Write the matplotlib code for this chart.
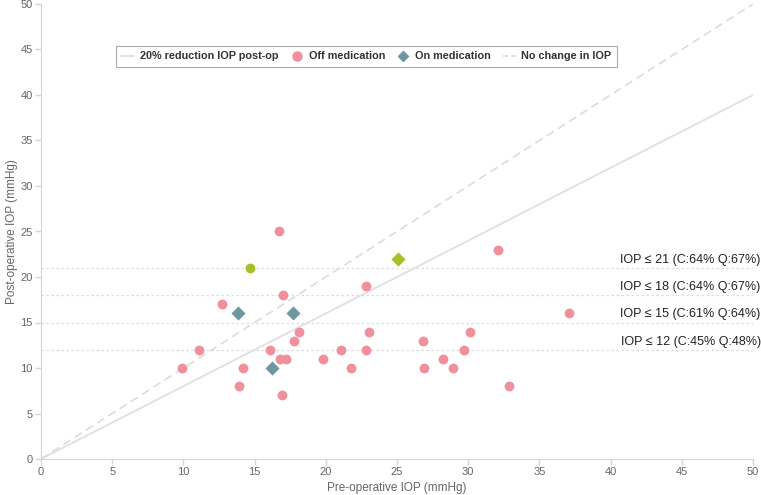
import matplotlib
matplotlib.use("Agg")
import matplotlib.pyplot as plt
from matplotlib.lines import Line2D

# data (mmHg)
off_pre = [16.7, 32.1, 22.8, 17.0, 12.7, 37.1, 18.1, 23.0, 30.1, 17.8, 26.8,
           11.1, 16.1, 21.1, 22.8, 29.7, 16.8, 17.2, 19.8, 28.2,
           9.9, 14.2, 21.8, 26.9, 28.9, 13.9, 32.9, 16.9]
off_post = [25, 23, 19, 18, 17, 16, 14, 14, 14, 13, 13,
            12, 12, 12, 12, 12, 11, 11, 11, 11,
            10, 10, 10, 10, 10, 8, 8, 7]
on_pre = [13.8, 17.7, 16.2]
on_post = [16, 16, 10]
hl_circle_pre, hl_circle_post = [14.7], [21]
hl_diamond_pre, hl_diamond_post = [25.1], [22]

thresholds = [21, 18, 15, 12]
threshold_labels = ["IOP ≤ 21 (C:64% Q:67%)", "IOP ≤ 18 (C:64% Q:67%)",
                    "IOP ≤ 15 (C:61% Q:64%)", "IOP ≤ 12 (C:45% Q:48%)"]
axis_range = [0, 50]

pink = "#f0909d"
slate = "#6f96a1"
green = "#a8bf2c"
axis_col = "#ccd6eb"
text_col = "#666666"

plt.rcParams["font.family"] = ["Liberation Sans", "DejaVu Sans"]

fig = plt.figure(figsize=(7.61, 4.95), dpi=100)
ax = fig.add_axes([41 / 761, 36 / 495, 712 / 761, 455 / 495])

# reference lines
ax.plot(axis_range, [v * 0.8 for v in axis_range], color="#e0e0e0", lw=1.3, zorder=1)
ax.plot(axis_range, axis_range, color="#dcdcdc", lw=1.2, ls=(0, (5, 3)), zorder=1)

for t, lab in zip(thresholds, threshold_labels):
    ax.axhline(t, color="#dddddd", lw=0.9, ls=(0, (2, 2)), zorder=0)
    ax.annotate(lab, xy=(1.0, t), xycoords=("axes fraction", "data"),
                xytext=(5.5, 1.5), textcoords="offset points",
                ha="right", va="bottom", fontsize=9, color="#222222",
                family=["Liberation Sans", "DejaVu Sans"],
                annotation_clip=False)

ax.scatter(off_pre, off_post, s=50, color=pink, marker="o", lw=0, zorder=3)
ax.scatter(on_pre, on_post, s=52, color=slate, marker="D", lw=0, zorder=3)
ax.scatter(hl_circle_pre, hl_circle_post, s=50, color=green, marker="o", lw=0, zorder=3)
ax.scatter(hl_diamond_pre, hl_diamond_post, s=52, color=green, marker="D", lw=0, zorder=3)

ax.set_xlim(axis_range)
ax.set_ylim(axis_range)
ax.set_xticks(range(0, 51, 5))
ax.set_yticks(range(0, 51, 5))
for side in ["top", "right"]:
    ax.spines[side].set_visible(False)
for side in ["left", "bottom"]:
    ax.spines[side].set_color(axis_col)
ax.tick_params(colors=axis_col, labelcolor=text_col, labelsize=8, length=4, width=1, pad=2)
ax.set_xlabel("Pre-operative IOP (mmHg)", fontsize=8.5, color=text_col, labelpad=3)
ax.set_ylabel("Post-operative IOP (mmHg)", fontsize=8.5, color=text_col, va="center")
ax.yaxis.set_label_coords(-29 / 712, 0.5)

handles = [
    Line2D([], [], color="#dddddd", lw=1.2),
    Line2D([], [], color=pink, marker="o", ls="", markersize=6.5),
    Line2D([], [], color=slate, marker="D", ls="", markersize=5.5),
    Line2D([], [], color="#dddddd", lw=1.2, ls=(0, (3, 2))),
]
labels = ["20% reduction IOP post-op", "Off medication", "On medication", "No change in IOP"]
leg = ax.legend(handles, labels, ncol=4, loc="upper left",
                bbox_to_anchor=(75 / 712, 1 - 42 / 455), borderaxespad=0,
                frameon=True, fancybox=False, handlelength=1.2, columnspacing=1.1,
                handletextpad=0.5, borderpad=0.5,
                prop={"size": 7.8, "weight": "bold"})
leg.get_frame().set_edgecolor("#999999")
leg.get_frame().set_linewidth(0.8)
for txt in leg.get_texts():
    txt.set_color("#333333")

fig.savefig("out.png", dpi=100)
